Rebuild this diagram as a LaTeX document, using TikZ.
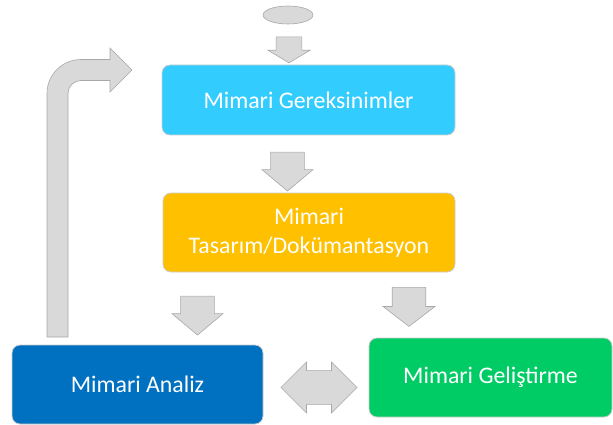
\documentclass[tikz,border=0pt]{standalone}
\usepackage{fontspec}
\setmainfont{Carlito}
\usetikzlibrary{positioning, calc, shapes.arrows, shapes.geometric}
\definecolor{reqblue}{HTML}{33CCFF}
\definecolor{desorange}{HTML}{FFC000}
\definecolor{anablue}{HTML}{0070C0}
\definecolor{devgreen}{HTML}{00CC66}
\definecolor{arrgray}{HTML}{D9D9D9}
\definecolor{arredge}{HTML}{A8A8A8}
\tikzset{box/.style = {rectangle, rounded corners=8pt, draw=black!20, line width=0.8pt,
                       text=white, align=center, inner sep=0pt,
                       font=\fontsize{23.8}{29}\selectfont},
         arr/.style = {single arrow, fill=arrgray, draw=arredge, line width=0.6pt,
                       inner xsep=0pt, rotate=-90, single arrow head indent=0pt},
         darr/.style = {double arrow, fill=arrgray, draw=arredge, line width=0.6pt,
                       inner xsep=0pt, double arrow head indent=0pt}}

\begin{document}
\begin{tikzpicture}[x=1pt, y=-1pt]
    \useasboundingbox (0,0) rectangle (613,425);

    % boxes
    \node [ellipse, fill=arrgray, draw=arredge, line width=0.6pt,
           minimum width=50pt, minimum height=18pt, inner sep=0pt] (start) at (288, 15) {};
    \node [box, fill=reqblue,   minimum width=293pt, minimum height=70pt] (req) at (308.5, 100)   {Mimari Gereksinimler};
    \node [box, fill=desorange, minimum width=292pt, minimum height=79pt] (des) at (309, 232.5)   {Mimari\\Tasarım/Dokümantasyon};
    \node [box, fill=anablue,   minimum width=251pt, minimum height=79pt] (ana) at (137.5, 384.5) {Mimari Analiz};
    \node [box, fill=devgreen,  minimum width=243pt, minimum height=79pt] (dev) at (490.5, 377.5) {Mimari Geliştirme};

    % block arrows
    \node [arr, inner ysep=11pt,   minimum height=26pt, minimum width=42pt,
           single arrow tip angle=118] (a0) at (289, 46)      {};
    \node [arr, inner ysep=13.5pt, minimum height=39pt, minimum width=51pt,
           single arrow tip angle=100] (a1) at (287.5, 164.5) {};
    \node [arr, inner ysep=13.5pt, minimum height=39pt, minimum width=51pt,
           single arrow tip angle=100] (a2) at (197.5, 308.5) {};
    \node [arr, inner ysep=12.5pt, minimum height=39pt, minimum width=52pt,
           single arrow tip angle=105] (a3) at (409, 300.5)   {};
    \node [darr, inner ysep=13.5pt, minimum height=76pt, minimum width=51pt,
           double arrow tip angle=90] (a4) at (319, 387.5)    {};

    % back to requirements
    \draw [fill=arrgray, draw=arredge, line width=0.6pt]
        (47, 337) -- (47, 93.5) arc [start angle=180, end angle=90, radius=34pt]
        -- (110, 59.5) -- (110, 48) -- (132, 70) -- (110, 92) -- (110, 80.5) -- (81, 80.5)
        arc [start angle=90, end angle=180, radius=13pt] -- (68, 337) -- cycle;
\end{tikzpicture}
\end{document}
